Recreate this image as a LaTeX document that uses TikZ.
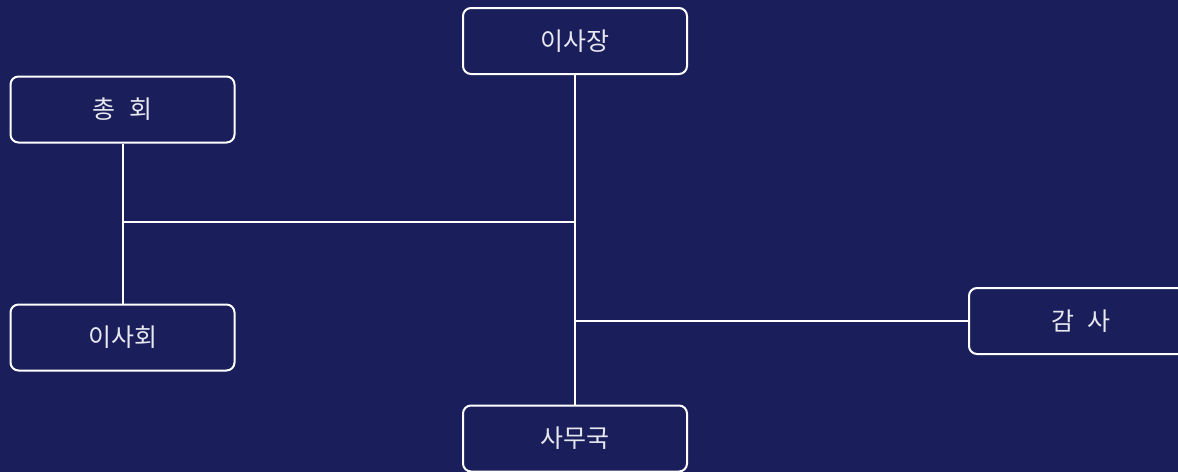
\documentclass[tikz,border=0pt]{standalone}
\usepackage{fontspec}
\newfontfamily\kr{Noto Sans CJK KR}
\definecolor{bg}{RGB}{26,31,92}
\definecolor{fg}{RGB}{232,232,240}
\begin{document}
\begin{tikzpicture}[x=1pt,y=-1pt,
  box/.style={draw=white,line width=2pt,rounded corners=8pt,minimum width=224pt,minimum height=66pt,inner sep=0pt,text=fg,font=\kr\fontsize{25}{30}\selectfont},
  link/.style={draw=white,line width=2pt}]
\fill[bg] (0,0) rectangle (1178,472);
\useasboundingbox (0,0) rectangle (1178,472);
\node[box] (chong) at (122.5,109.5) {총\hspace{0.55em}회};
\node[box] (isajang) at (575,41) {이사장};
\node[box] (isahoe) at (122.5,337.5) {이사회};
\node[box] (samu) at (575,438.5) {사무국};
\node[box] (gamsa) at (1081,321) {감\hspace{0.55em}사};
\coordinate (jl) at (575,222);
\coordinate (jr) at (575,321);
\draw[link] (isajang.south) -- (samu.north);
\draw[link] (chong.south) -- (isahoe.north);
\draw[link] (chong.south |- jl) -- (jl);
\draw[link] (jr) -- (gamsa.west);
\end{tikzpicture}
\end{document}
